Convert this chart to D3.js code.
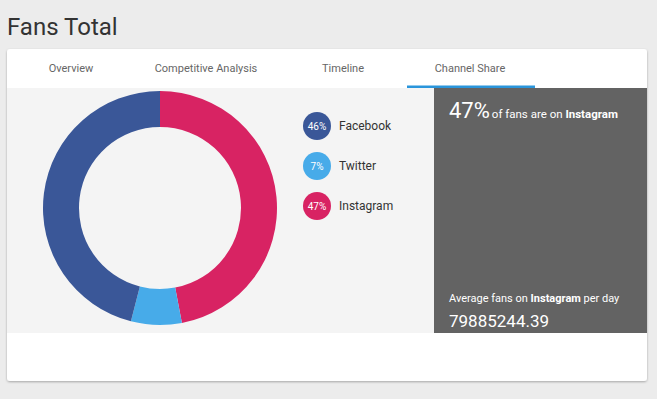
<!DOCTYPE html>
<html>
<head>
<meta charset="utf-8">
<script src="https://cdn.jsdelivr.net/npm/d3@7"></script>
<style>
  html, body { margin: 0; padding: 0; background: #ececec; }
  body { width: 657px; height: 399px; overflow: hidden; font-family: Roboto, "Open Sans", sans-serif; }
</style>
</head>
<body>
<svg id="chart" width="657" height="399"></svg>
<script>
const channels = ['Instagram', 'Twitter', 'Facebook'];
const shares = [47, 7, 46];
const colors = ['#d82363', '#47abe9', '#3a5798'];
const legendOrder = ['Facebook', 'Twitter', 'Instagram'];
const tabs = ['Overview', 'Competitive Analysis', 'Timeline', 'Channel Share'];
const tabCenters = [71, 206, 343, 470];
const avgPerDay = '79885244.39';

const svg = d3.select('#chart');

const defs = svg.append('defs');
const shadow = defs.append('filter').attr('id', 'shadow').attr('x', '-5%').attr('y', '-5%').attr('width', '110%').attr('height', '115%');
shadow.append('feDropShadow').attr('dx', 0).attr('dy', 1).attr('stdDeviation', 1.2).attr('flood-color', '#000').attr('flood-opacity', 0.3);

// title
svg.append('text').attr('x', 7).attr('y', 35)
  .attr('font-size', 24).attr('fill', '#333')
  .text('Fans Total');

// card
svg.append('rect').attr('x', 7).attr('y', 49).attr('width', 640).attr('height', 332)
  .attr('rx', 3).attr('fill', '#fff').attr('filter', 'url(#shadow)');

// tabs
svg.selectAll('text.tab').data(tabs).join('text')
  .attr('class', 'tab')
  .attr('x', (d, i) => tabCenters[i]).attr('y', 72)
  .attr('text-anchor', 'middle').attr('font-size', 11).attr('fill', '#666')
  .text(d => d);
svg.append('rect').attr('x', 407).attr('y', 85.5).attr('width', 128).attr('height', 2.5).attr('fill', '#2a95db');

// content panels
svg.append('rect').attr('x', 7).attr('y', 88).attr('width', 427).attr('height', 245).attr('fill', '#f4f4f4');
svg.append('rect').attr('x', 434).attr('y', 88).attr('width', 213).attr('height', 245).attr('fill', '#636363');

// donut
const data = channels.map((c, i) => ({ name: c, value: shares[i], color: colors[i] }));
const pie = d3.pie().value(d => d.value).sort(null);
const arc = d3.arc().innerRadius(81).outerRadius(117);
svg.append('g').attr('transform', 'translate(160,208)')
  .selectAll('path').data(pie(data)).join('path')
  .attr('d', arc).attr('fill', d => d.data.color);

// legend
const byName = new Map(data.map(d => [d.name, d]));
const legend = svg.append('g').selectAll('g').data(legendOrder.map(n => byName.get(n))).join('g')
  .attr('transform', (d, i) => `translate(317,${126 + i * 40})`);
legend.append('circle').attr('r', 14).attr('fill', d => d.color);
legend.append('text').attr('text-anchor', 'middle').attr('dy', '0.35em')
  .attr('font-size', 10).attr('fill', '#fff').text(d => d.value + '%');
legend.append('text').attr('x', 22).attr('dy', '0.35em')
  .attr('font-size', 12).attr('fill', '#333').text(d => d.name);

// right panel
const leader = byName.get('Instagram');
const t1 = svg.append('text').attr('x', 449).attr('y', 118).attr('fill', '#fff');
t1.append('tspan').attr('font-size', 22).text(leader.value + '%');
t1.append('tspan').attr('font-size', 11.5).attr('dx', 2).text('of fans are on ');
t1.append('tspan').attr('font-size', 11.5).attr('font-weight', 'bold').text(leader.name);

const t2 = svg.append('text').attr('x', 449).attr('y', 302).attr('fill', '#fff').attr('font-size', 11);
t2.append('tspan').text('Average fans on ');
t2.append('tspan').attr('font-weight', 'bold').text(leader.name);
t2.append('tspan').text(' per day');
svg.append('text').attr('x', 449).attr('y', 327).attr('fill', '#fff').attr('font-size', 17).text(avgPerDay);
</script>
</body>
</html>
